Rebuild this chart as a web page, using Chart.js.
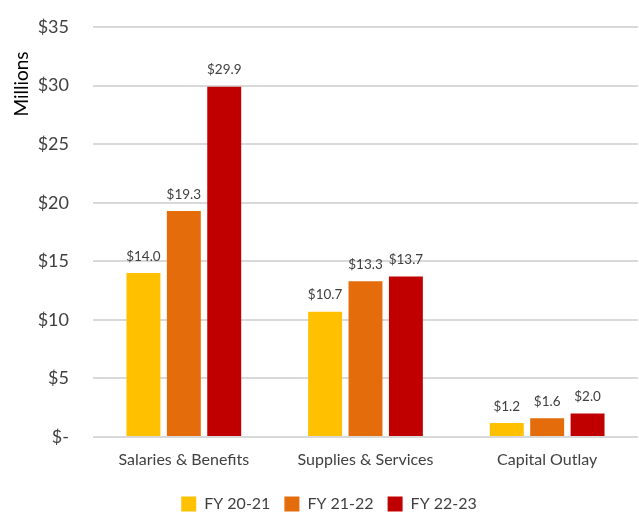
<!DOCTYPE html>
<html><head><meta charset="utf-8">
<script src="https://cdn.jsdelivr.net/npm/chart.js@4/dist/chart.umd.min.js"></script>
<style>html,body{margin:0;padding:0;background:#fff;}#wrap{width:639px;height:517px;}</style>
</head><body><div id="wrap"><canvas id="c" width="639" height="517"></canvas></div>
<script>
const categories = ['Salaries & Benefits', 'Supplies & Services', 'Capital Outlay'];
const seriesNames = ['FY 20-21', 'FY 21-22', 'FY 22-23'];
const fy2021 = [14.0, 10.7, 1.2];
const fy2122 = [19.3, 13.3, 1.6];
const fy2223 = [29.9, 13.7, 2.0];
const yTicks = [0, 5, 10, 15, 20, 25, 30, 35];
const colors = ['#FFC000', '#E46C0A', '#C00000'];
const FONT = 'Lato, "Open Sans", sans-serif';

const labelPlugin = {
  id: 'labels',
  afterDatasetsDraw(chart) {
    const ctx = chart.ctx;
    ctx.save();
    ctx.font = '13.5px ' + FONT;
    ctx.fillStyle = '#404040';
    ctx.textAlign = 'center';
    ctx.textBaseline = 'bottom';
    chart.data.datasets.forEach((ds, i) => {
      chart.getDatasetMeta(i).data.forEach((bar, j) => {
        ctx.fillText('$' + ds.data[j].toFixed(1), bar.x, bar.y - 10);
      });
    });
    ctx.restore();
  }
};
const yTitlePlugin = {
  id: 'ytitle',
  afterDraw(chart) {
    const ctx = chart.ctx;
    ctx.save();
    ctx.translate(22, 84);
    ctx.rotate(-Math.PI / 2);
    ctx.font = '19px ' + FONT;
    ctx.fillStyle = '#000';
    ctx.textAlign = 'center';
    ctx.textBaseline = 'middle';
    ctx.fillText('Millions', 0, 0);
    ctx.restore();
  }
};

new Chart(document.getElementById('c'), {
  type: 'bar',
  data: {
    labels: categories,
    datasets: [fy2021, fy2122, fy2223].map((d, i) => ({
      label: seriesNames[i],
      data: d,
      backgroundColor: colors[i],
      categoryPercentage: 0.667,
      barPercentage: 0.84
    }))
  },
  options: {
    responsive: false,
    animation: false,
    layout: { padding: { left: 20, right: 1, top: 27, bottom: -5 } },
    plugins: {
      legend: {
        position: 'bottom',
        labels: { font: { size: 16, family: FONT }, color: '#404040', boxWidth: 15, boxHeight: 15, padding: 14 }
      },
      tooltip: { enabled: false }
    },
    scales: {
      x: {
        grid: { display: false },
        border: { display: false },
        afterFit(s) { s.height = 45; s.paddingLeft = 0; s.paddingRight = 0; },
        ticks: { font: { size: 16, family: FONT }, color: '#404040', padding: 5 }
      },
      y: {
        min: 0, max: 35,
        afterBuildTicks(s) { s.ticks = yTicks.map(v => ({ value: v })); },
        afterFit(s) { s.width = 73; s.paddingTop = 0; s.paddingBottom = 0; },
        grid: { color: '#D9D9D9', lineWidth: 2, drawTicks: false },
        border: { display: false },
        ticks: {
          font: { size: 18, family: FONT }, color: '#404040', padding: 24,
          callback: v => v === 0 ? '$-' : '$' + v
        }
      }
    }
  },
  plugins: [labelPlugin, yTitlePlugin]
});
</script></body></html>
